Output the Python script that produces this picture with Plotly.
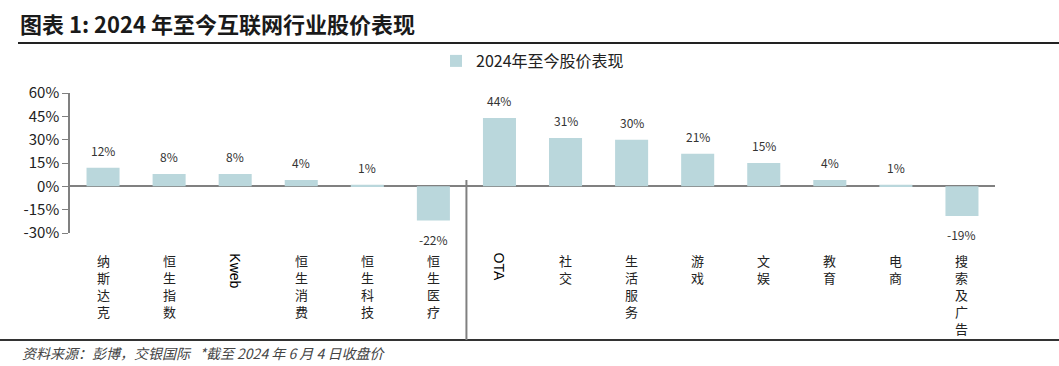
import plotly.graph_objects as go

categories = ["纳斯达克", "恒生指数", "Kweb", "恒生消费", "恒生科技", "恒生医疗",
              "OTA", "社交", "生活服务", "游戏", "文娱", "教育", "电商", "搜索及广告"]
values = [12, 8, 8, 4, 1, -22, 44, 31, 30, 21, 15, 4, 1, -19]
series_name = "2024年至今股价表现"
y_ticks = [-30, -15, 0, 15, 30, 45, 60]
y_tick_labels = [f"{v}%" for v in y_ticks]
title_text = "图表 1: 2024 年至今互联网行业股价表现"
source_text = "资料来源：彭博，交银国际 &nbsp; *截至 2024 年 6 月 4 日收盘价"

W, H = 1059, 366
L, R, T, B = 70, 64, 93, 133
pw, ph = W - L - R, H - T - B

def px_x(p):
    return (p - L) / pw

def px_y(p):
    return (H - B - p) / ph

bar_color = "#BAD7DC"
cn_font = "Noto Sans CJK SC"

fig = go.Figure()
fig.add_trace(go.Bar(
    x=categories, y=values, name=series_name,
    marker=dict(color=bar_color, line=dict(width=0)),
    width=0.5, showlegend=True,
))

annotations = []
# data labels
for c, v in zip(categories, values):
    annotations.append(dict(
        x=c, y=v, xref="x", yref="y", text=f"{v}%", showarrow=False,
        yanchor="bottom" if v >= 0 else "top", yshift=7 if v >= 0 else -8,
        font=dict(family=cn_font, size=12, color="#333333"),
    ))
# category labels
for c in categories:
    if c.isascii():
        annotations.append(dict(
            x=c, y=px_y(251), xref="x", yref="paper", text=c, showarrow=False,
            textangle=90, yanchor="top", xanchor="center",
            font=dict(family="Liberation Sans, Arial", size=14, color="#000000"),
        ))
    else:
        annotations.append(dict(
            x=c, y=px_y(249), xref="x", yref="paper", text="<br>".join(list(c)),
            showarrow=False, yanchor="top", xanchor="center", align="center",
            font=dict(family=cn_font, size=13, color="#222222"),
        ))
# footnote
annotations.append(dict(
    x=px_x(20), y=px_y(353), xref="paper", yref="paper", text=f"<i>{source_text}</i>",
    showarrow=False, xanchor="left", yanchor="middle",
    font=dict(family=cn_font, size=14, color="#444444"),
))

shapes = [
    dict(type="line", xref="paper", yref="paper", x0=px_x(18), x1=px_x(1059),
         y0=px_y(43), y1=px_y(43), line=dict(color="#222222", width=2)),
    dict(type="line", xref="paper", yref="paper", x0=px_x(0), x1=px_x(1059),
         y0=px_y(340), y1=px_y(340), line=dict(color="#333333", width=2)),
    dict(type="line", xref="x", yref="paper", x0=5.5, x1=5.5,
         y0=px_y(180), y1=px_y(340), line=dict(color="#808080", width=2)),
]

fig.update_layout(
    width=W, height=H,
    margin=dict(l=L, r=R, t=T, b=B),
    paper_bgcolor="white", plot_bgcolor="white",
    title=dict(text=f"<b>{title_text}</b>", x=20 / W, xref="container",
               y=1 - 25 / H, yref="container", xanchor="left", yanchor="middle",
               font=dict(family=cn_font, size=22, color="#1a1a1a")),
    legend=dict(orientation="h", x=0.5, xanchor="center", y=px_y(61), yanchor="middle",
                font=dict(family=cn_font, size=16, color="#222222"),
                itemwidth=30, bgcolor="rgba(0,0,0,0)"),
    xaxis=dict(type="category", showticklabels=False, showline=False, showgrid=False,
               ticks="", range=[-0.5, len(categories) - 0.5], fixedrange=True),
    yaxis=dict(range=[-30, 60], tickvals=y_ticks, ticktext=y_tick_labels,
               showgrid=False, zeroline=True, zerolinecolor="#808080", zerolinewidth=2,
               showline=True, linecolor="#808080", linewidth=1.5,
               ticks="outside", ticklen=6, tickcolor="#808080",
               tickfont=dict(family=cn_font, size=15, color="#222222")),
    annotations=annotations,
    shapes=shapes,
    bargap=0.5,
)

fig.write_html("out.html", config={"displayModeBar": False})

with open("out.html", "r", encoding="utf-8") as f:
    html = f.read()
html = html.replace("<head>", "<head><style>html,body{margin:0;padding:0;overflow:hidden;}</style>", 1)
with open("out.html", "w", encoding="utf-8") as f:
    f.write(html)
